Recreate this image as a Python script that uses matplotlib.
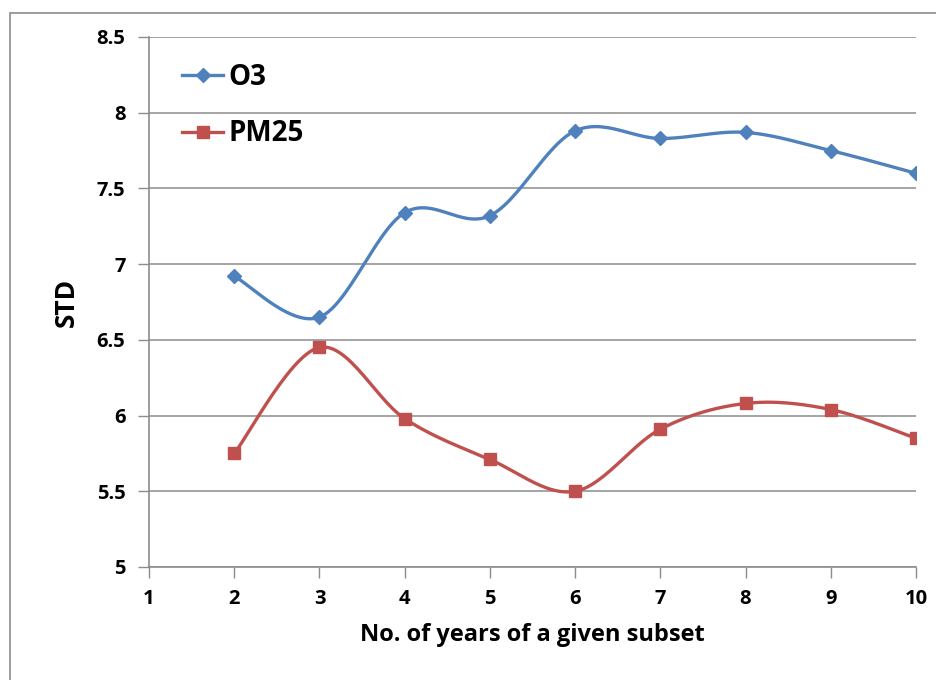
import numpy as np
import matplotlib
matplotlib.use("Agg")
import matplotlib.pyplot as plt
import matplotlib.patches as mpatches

# data
years = [2, 3, 4, 5, 6, 7, 8, 9, 10]
o3 = [6.92, 6.65, 7.34, 7.32, 7.88, 7.83, 7.87, 7.75, 7.60]
pm25 = [5.75, 6.45, 5.98, 5.71, 5.50, 5.91, 6.08, 6.04, 5.85]
x_ticks = [1, 2, 3, 4, 5, 6, 7, 8, 9, 10]
y_ticks = [5, 5.5, 6, 6.5, 7, 7.5, 8, 8.5]

plt.rcParams['font.family'] = ['Open Sans', 'DejaVu Sans']
plt.rcParams['font.weight'] = 'bold'


def smooth(xs, ys, n=30):
    # Excel-like smoothed line: cubic Bezier with Catmull-Rom control points
    p = np.column_stack([xs, ys]).astype(float)
    pts = [p[0]]
    t = np.linspace(0, 1, n)[1:, None]
    for i in range(len(p) - 1):
        p0 = p[i - 1] if i > 0 else p[i]
        p3 = p[i + 2] if i + 2 < len(p) else p[i + 1]
        c1 = p[i] + (p[i + 1] - p0) / 6
        c2 = p[i + 1] - (p3 - p[i]) / 6
        seg = ((1 - t) ** 3 * p[i] + 3 * (1 - t) ** 2 * t * c1
               + 3 * (1 - t) * t ** 2 * c2 + t ** 3 * p[i + 1])
        pts.extend(seg)
    pts = np.array(pts)
    return pts[:, 0], pts[:, 1]


fig = plt.figure(figsize=(9.36, 6.80), dpi=100)
ax = fig.add_axes([149 / 936, 1 - 567 / 680, (916 - 149) / 936, (567 - 37) / 680])

# outer chart frame
fig.patches.append(mpatches.Rectangle((10 / 936, -0.05), 1.1, 1 - 13 / 680 + 0.05,
                                      transform=fig.transFigure, fill=False,
                                      edgecolor='#8c8c8c', linewidth=1.2))

blue = '#4F81BD'
red = '#C0504D'

for ys, col, mk, ms, lab in [(o3, blue, 'D', 7, 'O3'), (pm25, red, 's', 9, 'PM25')]:
    sx, sy = smooth(years, ys)
    ax.plot(sx, sy, color=col, linewidth=2.4, zorder=3)
    ax.plot(years, ys, linestyle='none', marker=mk, markersize=ms, color=col, zorder=4)
    ax.plot([], [], color=col, linewidth=2.4, marker=mk, markersize=ms, label=lab)

ax.set_xlim(1, 10)
ax.set_ylim(5, 8.5)
ax.set_xticks(x_ticks)
ax.set_yticks(y_ticks)
ax.set_yticklabels(['%g' % v for v in y_ticks])
ax.tick_params(axis='both', direction='out', length=8, width=1, color='#8c8c8c',
               labelsize=14.5)
ax.tick_params(axis='y', pad=9)
ax.tick_params(axis='x', pad=8)
for lbl in ax.get_xticklabels() + ax.get_yticklabels():
    lbl.set_fontweight('bold')

for s in ['top', 'right']:
    ax.spines[s].set_visible(False)
for s in ['left', 'bottom']:
    ax.spines[s].set_color('#8c8c8c')
    ax.spines[s].set_linewidth(1.2)

ax.grid(axis='y', color='#8c8c8c', linewidth=1.1)
ax.set_axisbelow(True)

ax.set_xlabel('No. of years of a given subset', fontsize=17, fontweight='bold', labelpad=10)
ax.set_ylabel('STD', fontsize=19, fontweight='bold', labelpad=12)

ax.legend(loc='upper left', bbox_to_anchor=(0.011, 0.998), frameon=False,
          handlelength=1.45, handletextpad=0.2, labelspacing=0.98,
          prop={'weight': 'bold', 'size': 20})

fig.savefig('out.png', dpi=100)
